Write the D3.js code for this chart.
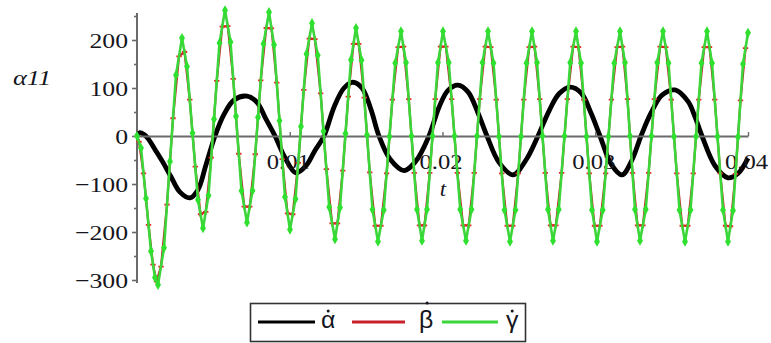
<!DOCTYPE html>
<html>
<head>
<meta charset="utf-8">
<script src="https://cdn.jsdelivr.net/npm/d3@7"></script>
<style>
  body { margin: 0; background: #fff; }
  svg { display: block; }
</style>
</head>
<body>
<svg id="chart" width="771" height="343"></svg>
<script>
// Angular rates of the three joints over time (t in seconds)
const tAlpha = [0, 0.000196, 0.000458, 0.000720, 0.001178, 0.001702, 0.002226, 0.002815, 0.003470, 0.003993,
  0.004517, 0.005106, 0.005696, 0.006350, 0.007201, 0.007856, 0.008445, 0.009034, 0.009689, 0.010409,
  0.011064, 0.011653, 0.012242, 0.012897, 0.013551, 0.014141, 0.014730, 0.015319, 0.015843, 0.016563,
  0.017479, 0.018265, 0.019116, 0.019771, 0.020360, 0.021015, 0.021669, 0.022324, 0.022913, 0.023699,
  0.024615, 0.025466, 0.026252, 0.026971, 0.027627, 0.028347, 0.029067, 0.029722, 0.030311, 0.031031,
  0.031751, 0.032405, 0.032995, 0.033650, 0.034370, 0.035221, 0.036072, 0.036530, 0.036989, 0.037839,
  0.038691, 0.039345, 0.040000];
const vAlpha = [0, 7, 3, -5, -28, -55, -85, -117, -129, -112,
  -60, 0, 45, 75, 83, 70, 35, 0, -45, -77,
  -62, -30, 0, 60, 100, 112, 100, 55, 0, -48,
  -72, -52, 0, 60, 95, 106, 92, 48, 0, -55,
  -81, -50, 0, 52, 88, 102, 90, 48, 0, -58,
  -81, -50, 0, 48, 85, 96, 72, 40, 0, -62,
  -87, -78, -46];

const tGamma = [0, 0.000262, 0.000589, 0.000917, 0.001178, 0.001375, 0.001768, 0.002160, 0.002553, 0.002946,
  0.003273, 0.003633, 0.003993, 0.004321, 0.004681, 0.005041, 0.005401, 0.005761, 0.006121, 0.006481,
  0.006841, 0.007201, 0.007561, 0.007921, 0.008281, 0.008642, 0.008969, 0.009329, 0.009689, 0.010016,
  0.010376, 0.010736, 0.011096, 0.011457, 0.011833, 0.012209, 0.012586, 0.012962, 0.013290, 0.013650,
  0.014010, 0.014337, 0.014697, 0.015057, 0.015417, 0.015777, 0.016154, 0.016530, 0.016907, 0.017283,
  0.017610, 0.017970, 0.018330, 0.018658, 0.018985, 0.019345, 0.019705, 0.020033, 0.020409, 0.020785,
  0.021162, 0.021538, 0.021898, 0.022258, 0.022618, 0.022979, 0.023339, 0.023699, 0.024059, 0.024419,
  0.024779, 0.025139, 0.025499, 0.025859, 0.026186, 0.026546, 0.026907, 0.027234, 0.027610, 0.027987,
  0.028363, 0.028740, 0.029067, 0.029427, 0.029787, 0.030115, 0.030491, 0.030867, 0.031244, 0.031620,
  0.031947, 0.032275, 0.032602, 0.032930, 0.033306, 0.033683, 0.034059, 0.034435, 0.034795, 0.035155,
  0.035515, 0.035876, 0.036236, 0.036596, 0.036956, 0.037316, 0.037643, 0.038003, 0.038363, 0.038691,
  0.039018, 0.039345, 0.039673, 0.040000];
const vGamma = [0, -25, -130, -240, -295, -310, -233, -53, 127, 204,
  145, 6, -133, -192, -124, 35, 194, 262, 196, 41,
  -114, -180, -114, 39, 192, 258, 190, 32, -127, -195,
  -131, 20, 171, 235, 168, 10, -148, -215, -149, 5,
  159, 225, 158, 2, -153, -220, -154, -1, 152, 218,
  153, 0, -153, -218, -153, 0, 153, 218, 153, 0,
  -153, -218, -153, 0, 153, 218, 152, -1, -154, -220,
  -154, -1, 152, 218, 153, 0, -153, -218, -153, 0,
  153, 218, 152, -1, -154, -220, -154, -1, 152, 218,
  153, 0, -153, -218, -153, 0, 153, 218, 152, -1,
  -154, -220, -154, -1, 152, 218, 152, -1, -154, -220,
  -155, -2, 150, 215];

const tBeta = [0.000131, 0.000426, 0.000753, 0.001048, 0.001277, 0.001572, 0.001964, 0.002357, 0.002750, 0.003110,
  0.003453, 0.003813, 0.004157, 0.004501, 0.004861, 0.005221, 0.005581, 0.005941, 0.006301, 0.006661,
  0.007021, 0.007381, 0.007741, 0.008101, 0.008462, 0.008806, 0.009149, 0.009509, 0.009853, 0.010196,
  0.010556, 0.010916, 0.011277, 0.011645, 0.012021, 0.012398, 0.012774, 0.013126, 0.013470, 0.013830,
  0.014174, 0.014517, 0.014877, 0.015237, 0.015597, 0.015966, 0.016342, 0.016719, 0.017095, 0.017447,
  0.017790, 0.018150, 0.018494, 0.018822, 0.019165, 0.019525, 0.019869, 0.020221, 0.020597, 0.020974,
  0.021350, 0.021718, 0.022078, 0.022438, 0.022799, 0.023159, 0.023519, 0.023879, 0.024239, 0.024599,
  0.024959, 0.025319, 0.025679, 0.026023, 0.026366, 0.026727, 0.027071, 0.027422, 0.027799, 0.028175,
  0.028552, 0.028904, 0.029247, 0.029607, 0.029951, 0.030303, 0.030679, 0.031056, 0.031432, 0.031784,
  0.032111, 0.032439, 0.032766, 0.033118, 0.033495, 0.033871, 0.034247, 0.034615, 0.034975, 0.035335,
  0.035696, 0.036056, 0.036416, 0.036776, 0.037136, 0.037480, 0.037823, 0.038183, 0.038527, 0.038855,
  0.039182, 0.039509, 0.039837];
const vBeta = [-12, -78, -185, -268, -303, -272, -143, 37, 166, 175,
  76, -64, -163, -158, -45, 115, 228, 229, 119, -37,
  -147, -147, -38, 116, 225, 224, 111, -48, -161, -163,
  -56, 96, 203, 202, 89, -69, -182, -182, -72, 82,
  192, 192, 80, -76, -187, -187, -78, 76, 185, 186,
  77, -77, -186, -186, -77, 77, 186, 186, 77, -77,
  -186, -186, -77, 77, 186, 185, 76, -78, -187, -187,
  -78, 76, 185, 186, 77, -77, -186, -186, -77, 77,
  186, 185, 76, -78, -187, -187, -78, 76, 185, 186,
  77, -77, -186, -186, -77, 77, 186, 185, 76, -78,
  -187, -187, -78, 76, 185, 185, 76, -78, -187, -188,
  -79, 74, 183];

const xTicks = [0.01, 0.02, 0.03, 0.04];
const yTicks = [-300, -200, -100, 0, 100, 200];
const yMinorTicks = [-250, -150, -50, 50, 150, 250];
const yAxisExtent = [-306, 256];
// legend symbols: Greek letter, with a derivative dot drawn over it
const seriesLetters = ["\u03B1", "\u03B2", "\u03B3"];
const seriesColors = ["#000000", "#c8202a", "#3ad63a"];

const svg = d3.select("#chart");
const x = d3.scaleLinear().domain([0, 0.04]).range([137, 748]);
const y = d3.scaleLinear().domain([-300, 200]).range([280, 40]);

const serif = "'Liberation Serif','Times New Roman',serif";
const sans = "'Liberation Sans',Arial,'DejaVu Sans',sans-serif";
const stretch = 1.17;
const axisColor = "#6a6a6a";
const textColor = "#151520";

const zip = (ts, vs) => ts.map((t, i) => ({ t, v: vs[i] }));
const alpha = zip(tAlpha, vAlpha);
const beta = zip(tBeta, vBeta);
const gamma = zip(tGamma, vGamma);

// --- axes -------------------------------------------------------------
const yAxis = d3.axisLeft(y)
  .tickValues(yTicks)
  .tickSize(5)
  .tickSizeOuter(0)
  .tickFormat(d => d < 0 ? "\u2212" + Math.abs(d) : String(d));

const gy = svg.append("g").attr("transform", `translate(${x(0)},0)`).call(yAxis);
gy.select(".domain").remove();
gy.selectAll(".tick line").attr("stroke", axisColor).attr("stroke-width", 1.6);
gy.selectAll(".tick text")
  .attr("x", null).attr("dy", null)
  .attr("transform", "translate(-9,7) scale(" + stretch + ",1)")
  .attr("font-family", serif).attr("font-size", 22).attr("fill", textColor);

const gyMinor = svg.append("g").attr("transform", `translate(${x(0)},0)`)
  .call(d3.axisLeft(y).tickValues(yMinorTicks).tickSize(3).tickSizeOuter(0).tickFormat(""));
gyMinor.select(".domain").remove();
gyMinor.selectAll(".tick line").attr("stroke", axisColor).attr("stroke-width", 1.6);

svg.append("line")
  .attr("x1", x(0)).attr("x2", x(0))
  .attr("y1", y(yAxisExtent[1])).attr("y2", y(yAxisExtent[0]))
  .attr("stroke", axisColor).attr("stroke-width", 2);

// series drawn before the horizontal axis so the axis sits on top of black
const lineGen = d3.line().x(d => x(d.t)).y(d => y(d.v));

svg.append("path").datum(alpha)
  .attr("d", lineGen.curve(d3.curveCatmullRom.alpha(0.5)))
  .attr("fill", "none").attr("stroke", seriesColors[0])
  .attr("stroke-width", 4.8).attr("stroke-linejoin", "round");

const xAxis = d3.axisBottom(x)
  .tickValues(xTicks)
  .tickSize(-4)
  .tickSizeOuter(0)
  .tickFormat(d3.format(".2f"));
const gx = svg.append("g").attr("transform", `translate(0,${y(0)})`).call(xAxis);
gx.select(".domain").attr("stroke", axisColor).attr("stroke-width", 2);
gx.selectAll(".tick line").attr("stroke", axisColor).attr("stroke-width", 1.4);
gx.selectAll(".tick text")
  .attr("y", null).attr("dy", null)
  .attr("transform", "translate(-2,33) scale(1.12,1)")
  .attr("font-family", serif).attr("font-size", 22).attr("fill", textColor);

// beta (mostly hidden under gamma; its markers show through)
svg.append("path").datum(beta)
  .attr("d", lineGen.curve(d3.curveLinear))
  .attr("fill", "none").attr("stroke", seriesColors[1]).attr("stroke-width", 2.2);
svg.append("g").selectAll("path").data(beta).join("path")
  .attr("transform", d => `translate(${x(d.t)},${y(d.v)})`)
  .attr("d", d3.symbol(d3.symbolCross, 16))
  .attr("fill", "#e8241e");

// gamma
svg.append("path").datum(gamma)
  .attr("d", lineGen.curve(d3.curveLinear))
  .attr("fill", "none").attr("stroke", seriesColors[2]).attr("stroke-width", 2.6)
  .attr("stroke-linejoin", "round");
svg.append("g").selectAll("path").data(gamma).join("path")
  .attr("transform", d => `translate(${x(d.t)},${y(d.v)})`)
  .attr("d", d3.symbol(d3.symbolDiamond, 30))
  .attr("fill", "#2fe02f");

// --- axis titles ------------------------------------------------------
svg.append("text")
  .attr("transform", "translate(443,196) scale(1.1,1)")
  .attr("text-anchor", "middle")
  .attr("font-family", serif).attr("font-style", "italic").attr("font-size", 21)
  .attr("fill", textColor).text("t");

svg.append("text")
  .attr("transform", "translate(13,85) scale(1.2,1)")
  .attr("font-family", serif).attr("font-style", "italic").attr("font-size", 22)
  .attr("fill", textColor).text("\u03B111");

// --- legend -----------------------------------------------------------
const legend = svg.append("g");
legend.append("rect")
  .attr("x", 250.5).attr("y", 303.5).attr("width", 275).attr("height", 38)
  .attr("fill", "#fff").attr("stroke", "#333").attr("stroke-width", 1.6);

const legendItems = [
  { x1: 258, x2: 315, tx: 321, dotDy: -17 },
  { x1: 352, x2: 405, tx: 419, dotDy: -25 },
  { x1: 442, x2: 498, tx: 506, dotDy: -17 }
];
legendItems.forEach((it, i) => {
  legend.append("line")
    .attr("x1", it.x1).attr("x2", it.x2).attr("y1", 322).attr("y2", 322)
    .attr("stroke", seriesColors[i]).attr("stroke-width", 3.2);
  const sx = 1.08;
  const txt = legend.append("text")
    .attr("transform", `translate(${it.tx},328) scale(${sx},1)`)
    .attr("font-family", sans).attr("font-size", 23)
    .attr("fill", textColor).text(seriesLetters[i]);
  const w = txt.node().getComputedTextLength() * sx;
  legend.append("circle")
    .attr("cx", it.tx + w / 2 + (i === 1 ? 1 : 0)).attr("cy", 328 + it.dotDy)
    .attr("r", 1.5).attr("fill", textColor);
});
</script>
</body>
</html>
